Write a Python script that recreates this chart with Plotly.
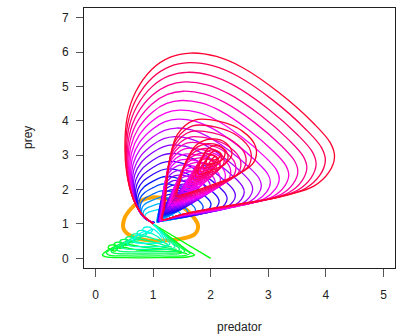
import plotly.graph_objects as go

# ---- data ----
# closed orange orbit
orange_pred = [0.97, 1.25, 1.46, 1.65, 1.78, 1.72, 1.52, 1.2, 0.88, 0.62, 0.49, 0.5, 0.62, 0.78, 0.97]
orange_prey = [1.77, 1.72, 1.55, 1.3, 0.95, 0.7, 0.58, 0.52, 0.53, 0.65, 0.85, 1.15, 1.45, 1.67, 1.77]

# outermost (red) trajectory, read point by point
red_pred = [1.0, 0.8, 0.64, 0.54, 0.51, 0.55, 0.7, 0.98, 1.3, 1.65, 2.1, 2.55, 3.2, 3.79, 4.08, 4.15, 4.05, 3.79, 3.35, 2.92, 2.04, 1.5, 1.17,
            1.2, 1.24, 1.29, 1.42, 1.72, 2.15, 2.55, 2.78, 2.75, 2.48, 2.0, 1.6, 1.42,
            1.47, 1.58, 1.75, 2.0, 2.27, 2.37, 2.25, 2.0, 1.78,
            1.82, 1.93, 2.08, 2.24, 2.22, 2.06, 1.92,
            1.96, 2.05, 2.17, 2.13, 2.02, 2.07]
red_prey = [1.0, 1.3, 1.8, 2.5, 3.2, 4.1, 4.85, 5.5, 5.85, 5.97, 5.87, 5.55, 4.8, 3.92, 3.35, 2.95, 2.5, 2.1, 1.85, 1.7, 1.46, 1.28, 1.14,
            1.5, 2.2, 2.9, 3.6, 4.02, 3.98, 3.7, 3.25, 2.8, 2.45, 2.12, 1.9, 1.85,
            2.25, 2.85, 3.3, 3.47, 3.35, 3.05, 2.75, 2.55, 2.45,
            2.78, 3.15, 3.28, 3.15, 2.9, 2.76, 2.72,
            2.95, 3.12, 3.05, 2.9, 2.87, 2.96]

# peak prey value of each nested trajectory (outer -> inner)
peak_prey = [5.97, 5.69, 5.41, 5.13, 4.86, 4.59, 4.31, 4.05, 3.79, 3.54,
             3.30, 3.05, 2.82, 2.60, 2.38, 2.17, 1.97, 1.78, 1.60, 1.43]
outer_colors = ['#FF0030', '#FF0050', '#FF0070', '#FF0090', '#FF00B0', '#FF00D0',
                '#FF00F0', '#E800FF', '#C800FF', '#A800FF', '#8800FF', '#6800FF',
                '#4800FF', '#2800FF', '#0818FF', '#0040FF', '#0068FF', '#0090FF',
                '#00B8FF', '#00E0FF']

# lower (green) trajectories
green_pred = [
    [1.0, 1.35, 1.62, 1.72, 1.6, 1.1, 0.5, 0.18, 0.12, 0.18, 0.24, 0.34, 0.39, 0.34, 0.24, 0.22, 0.3, 0.42, 0.75, 1.39, 1.59],
    [1.0, 1.3, 1.55, 1.64, 1.54, 1.1, 0.55, 0.25, 0.19, 0.25, 0.34, 0.44, 0.49, 0.44, 0.34, 0.32, 0.4, 0.52, 0.85, 1.3, 1.5],
    [1.0, 1.27, 1.47, 1.55, 1.46, 1.1, 0.6, 0.32, 0.27, 0.33, 0.44, 0.54, 0.59, 0.54, 0.44, 0.42, 0.5, 0.62, 0.95, 1.21, 1.41],
    [1.0, 1.24, 1.39, 1.46, 1.38, 1.1, 0.7, 0.41, 0.36, 0.42, 0.54, 0.64, 0.69, 0.64, 0.54, 0.52, 0.6, 0.72, 1.0, 1.2, 1.33],
    [1.0, 1.2, 1.32, 1.38, 1.3, 1.1, 0.75, 0.5, 0.45, 0.51, 0.64, 0.74, 0.79, 0.74, 0.64, 0.62, 0.7, 0.82, 1.05, 1.2, 1.26],
    [1.0, 1.16, 1.25, 1.29, 1.22, 1.05, 0.8, 0.6, 0.55, 0.6, 0.74, 0.84, 0.89, 0.84, 0.74, 0.72, 0.8, 0.92, 1.08, 1.16],
    [1.0, 1.12, 1.18, 1.2, 1.14, 1.0, 0.82, 0.69, 0.65, 0.7, 0.84, 0.94, 0.99, 0.94, 0.84, 0.82, 0.9, 1.0, 1.1, 1.15],
]
green_prey = [
    [1.0, 0.55, 0.2, 0.1, 0.04, 0.02, 0.02, 0.04, 0.1, 0.2, 0.26, 0.21, 0.3, 0.39, 0.37, 0.3, 0.26, 0.33, 0.24, 0.19, 0.14],
    [1.0, 0.6, 0.26, 0.15, 0.08, 0.07, 0.07, 0.09, 0.15, 0.26, 0.34, 0.29, 0.38, 0.47, 0.45, 0.38, 0.34, 0.41, 0.32, 0.25, 0.2],
    [1.0, 0.62, 0.32, 0.21, 0.14, 0.13, 0.13, 0.15, 0.21, 0.32, 0.42, 0.37, 0.46, 0.55, 0.53, 0.46, 0.42, 0.49, 0.4, 0.31, 0.26],
    [1.0, 0.66, 0.38, 0.27, 0.2, 0.19, 0.19, 0.21, 0.27, 0.38, 0.5, 0.45, 0.54, 0.63, 0.61, 0.54, 0.5, 0.57, 0.48, 0.38, 0.33],
    [1.0, 0.7, 0.45, 0.34, 0.27, 0.26, 0.26, 0.28, 0.34, 0.45, 0.58, 0.53, 0.62, 0.71, 0.69, 0.62, 0.58, 0.65, 0.55, 0.45, 0.4],
    [1.0, 0.74, 0.52, 0.42, 0.35, 0.34, 0.34, 0.36, 0.42, 0.53, 0.68, 0.63, 0.72, 0.81, 0.79, 0.72, 0.68, 0.75, 0.63, 0.52],
    [1.0, 0.78, 0.6, 0.51, 0.45, 0.44, 0.44, 0.46, 0.51, 0.62, 0.78, 0.73, 0.82, 0.91, 0.89, 0.82, 0.78, 0.85, 0.72, 0.6],
]
green_colors = ['#00FF10', '#00FF30', '#00FF50', '#00FF70', '#00FF98', '#00FFC0', '#00FFE8']

collapse_pred = [1.0, 2.0]
collapse_prey = [1.0, 0.0]

x_ticks = [0, 1, 2, 3, 4, 5]
y_ticks = [0, 1, 2, 3, 4, 5, 6, 7]

# ---- figure ----
fig = go.Figure()
line_w = 1.3

fig.add_trace(go.Scatter(x=orange_pred, y=orange_prey, mode='lines',
                         line=dict(color='#FFA500', width=4, shape='spline'), hoverinfo='skip'))

fig.add_trace(go.Scatter(x=collapse_pred, y=collapse_prey, mode='lines',
                         line=dict(color='#00FF00', width=line_w), hoverinfo='skip'))
for gx, gy, c in zip(green_pred, green_prey, green_colors):
    fig.add_trace(go.Scatter(x=gx, y=gy, mode='lines',
                             line=dict(color=c, width=line_w, shape='spline', smoothing=0.8),
                             hoverinfo='skip'))

# nested trajectories: each is the red trajectory seen at its own peak size;
# the flanks stay wider than the height shrinks, as in the picture
cx, cy = 1.05, 1.05
red_peak = max(red_prey)
for peak, c in reversed(list(zip(peak_prey, outer_colors))):
    s = (peak - cy) / (red_peak - cy)
    s_left = s ** 0.4
    s_right = s ** 0.9
    xs = [cx + (v - cx) * (s_left if v < cx else s_right) for v in red_pred]
    ys = [cy + (v - cy) * s for v in red_prey]
    fig.add_trace(go.Scatter(x=xs, y=ys, mode='lines',
                             line=dict(color=c, width=line_w, shape='spline', smoothing=1.0),
                             hoverinfo='skip'))

axis_font = dict(family='Liberation Sans, Arial, sans-serif', size=12, color='#222222')
fig.update_layout(
    width=398, height=334,
    margin=dict(l=84, r=3, t=8, b=66),
    paper_bgcolor='white', plot_bgcolor='white',
    showlegend=False,
    font=axis_font,
    xaxis=dict(range=[-0.2, 5.2], tickvals=x_ticks, ticks='outside', ticklen=8,
               tickcolor='#555555', tickwidth=1, showgrid=False, zeroline=False,
               showline=True, linecolor='#222222', linewidth=1, mirror=True,
               ticklabelstandoff=8, tickfont=axis_font, automargin=False),
    yaxis=dict(range=[-0.28, 7.28], tickvals=y_ticks, ticks='outside', ticklen=7,
               tickcolor='#555555', tickwidth=1, showgrid=False, zeroline=False,
               showline=True, linecolor='#222222', linewidth=1, mirror=True,
               ticklabelstandoff=5, tickfont=axis_font, automargin=False),
    annotations=[
        dict(text='predator', x=0.5, y=0, xref='paper', yref='paper', showarrow=False,
             yanchor='middle', yshift=-59, font=axis_font),
        dict(text='prey', x=0, y=0.5, xref='paper', yref='paper', showarrow=False,
             xanchor='center', xshift=-56, textangle=-90, font=axis_font),
    ],
)

fig.write_html('out.html', config={'displayModeBar': False},
               post_script="document.body.style.margin='0';document.body.style.overflow='hidden';")
